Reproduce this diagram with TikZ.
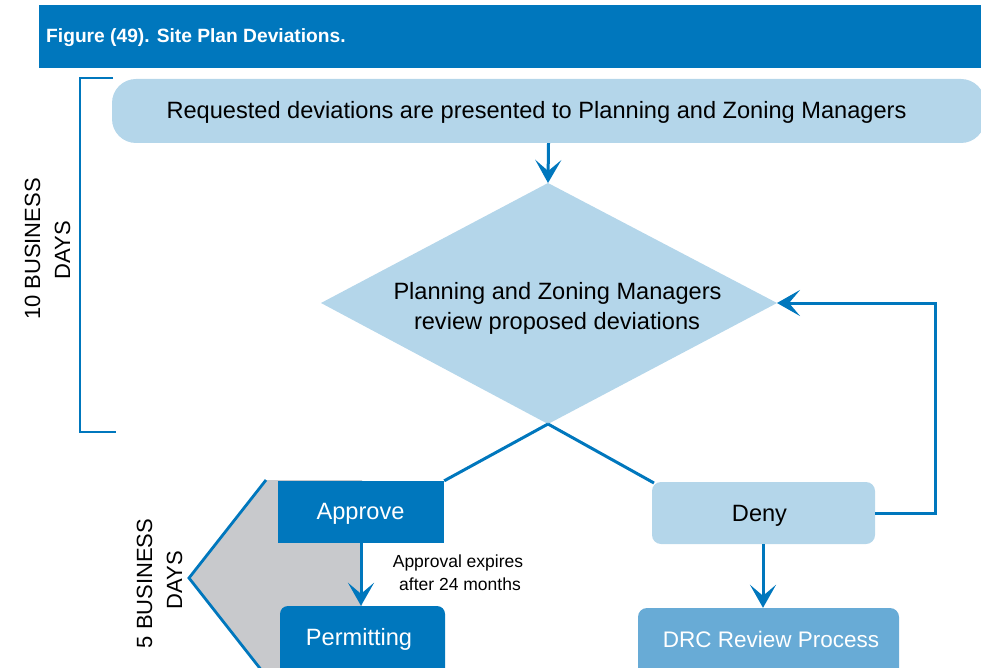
\documentclass[tikz,border=0pt]{standalone}
\usepackage{fontspec}
\setmainfont{Liberation Sans}
\usetikzlibrary{arrows.meta}
\definecolor{hdr}{HTML}{0077BD}
\definecolor{lightb}{HTML}{B4D6EA}
\definecolor{midb}{HTML}{68ABD6}
\definecolor{grayf}{HTML}{C8C9CC}
\tikzset{
  conn/.style={draw=hdr, line width=3pt},
  arr/.style={conn, -{Stealth[length=23pt,width=26pt,inset=11pt]}},
  boxtext/.style={font=\fontsize{23.6}{27}\selectfont, inner sep=0pt, anchor=base},
  rot/.style={font=\fontsize{22}{26}\selectfont, rotate=90, anchor=base, inner sep=0pt},
  small/.style={font=\fontsize{17.5}{20}\selectfont, inner sep=0pt, anchor=base},
}
\begin{document}
\begin{tikzpicture}[x=1pt,y=-1pt]
\useasboundingbox (0,0) rectangle (981,668);
\clip (0,0) rectangle (981,668);
% header
\fill[hdr] (39,5) rectangle (981,68);
\node[anchor=base west, text=white, font=\bfseries\fontsize{19.2}{22}\selectfont, inner sep=0pt] (title) at (46,43) {Figure (49). Site Plan Deviations.};
% top box
\node[fill=lightb, rounded corners=24pt, minimum width=873pt, minimum height=64pt, inner sep=0pt] (reqbox) at (548.5,111) {};
\node[boxtext] (req) at (536.5,119) {Requested deviations are presented to Planning and Zoning Managers};
% diamond
\coordinate (dtop) at (548,183);
\coordinate (dleft) at (321,303);
\coordinate (dright) at (777,303);
\coordinate (dbot) at (548,424);
\fill[lightb] (dtop) -- (dright) -- (dbot) -- (dleft) -- cycle;
\node[boxtext] (review1) at (557.5,299) {Planning and Zoning Managers};
\node[boxtext] (review2) at (557,329) {review proposed deviations};
\draw[arr] (reqbox.south) -- (dtop);
% bracket
\coordinate (b1) at (113,78);
\coordinate (b2) at (80,78);
\coordinate (b3) at (80,432);
\coordinate (b4) at (116,432);
\draw[conn, line width=2.8pt] (b1) -- (b2) -- (b3) -- (b4);
\node[rot] (ten1) at (40,249) {10 BUSINESS};
\node[rot] (ten2) at (70,250) {DAYS};
% gray chevron
\coordinate (c1) at (266,480);
\coordinate (c2) at (189,578);
\coordinate (c3) at (266,676);
\fill[grayf] (c1) -- (362,480) -- (362,680) -- (266,680) -- (c3) -- (c2) -- cycle;
\draw[conn, line width=2.8pt] (c1) -- (c2) -- (c3);
\node[rot] (five1) at (152,583.5) {5 BUSINESS};
\node[rot] (five2) at (182,580) {DAYS};
% approve
\node[fill=hdr, minimum width=166pt, minimum height=62pt, inner sep=0pt] (approve) at (361,512) {};
\node[boxtext, text=white] (approvet) at (360.5,519) {Approve};
% permitting
\node[fill=hdr, rounded corners=8pt, minimum width=165pt, minimum height=70pt, inner sep=0pt] (permit) at (362.5,641) {};
\node[boxtext, text=white] (permitt) at (359,645) {Permitting};
\draw[arr] (approve.south) -- (permit.north -| approve.south);
\node[small] (expire1) at (458,567) {Approval expires};
\node[small] (expire2) at (460,590) {after 24 months};
% deny
\node[fill=lightb, rounded corners=9pt, minimum width=223pt, minimum height=62pt, inner sep=0pt] (deny) at (763.5,513) {};
\node[boxtext] (denyt) at (759.5,521.5) {Deny};
% DRC
\node[fill=midb, rounded corners=9pt, minimum width=261pt, minimum height=72pt, inner sep=0pt] (drc) at (768.5,644) {};
\node[boxtext, text=white, font=\fontsize{22.5}{26}\selectfont] (drct) at (771,647) {DRC Review Process};
\draw[arr] (deny.south -| 763,0) -- (drc.north -| 763,0);
% branches
\draw[conn] (dbot) -- (approve.north east);
\draw[conn] (dbot) -- (654,483);
% feedback
\coordinate (fb1) at (935,513);
\coordinate (fb2) at (935,303);
\draw[arr] (deny.east) -- (fb1) -- (fb2) -- (dright);
\end{tikzpicture}
\end{document}
